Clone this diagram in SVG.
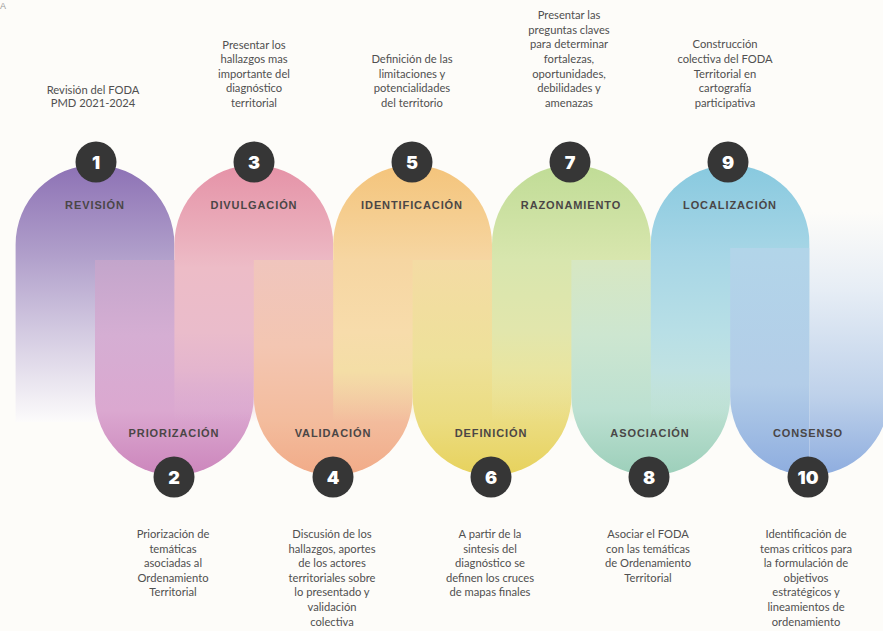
<svg xmlns="http://www.w3.org/2000/svg" width="883" height="631" viewBox="0 0 883 631">
<style>
.desc{font-family:Lato,"Open Sans","Liberation Sans",sans-serif;font-size:11.2px;fill:#505050;text-anchor:middle}
.lbl{font-family:"Liberation Sans",Arial,sans-serif;font-weight:bold;font-size:11px;letter-spacing:0.9px;fill:#4a4646;text-anchor:middle}
.num{font-family:Inter,"Liberation Sans",sans-serif;font-weight:900;font-size:18px;fill:#ffffff;text-anchor:middle}
.dot{fill:#363636}
</style>
<defs>
<linearGradient id="g1" gradientUnits="userSpaceOnUse" x1="0" y1="165" x2="0" y2="422">
<stop offset="0" stop-color="#8d72b5"/><stop offset="0.33" stop-color="#ae9cc9"/><stop offset="0.65" stop-color="#d3cae1"/><stop offset="1" stop-color="#fcfbfb"/></linearGradient>
<linearGradient id="g2" gradientUnits="userSpaceOnUse" x1="0" y1="260" x2="0" y2="475">
<stop offset="0" stop-color="#c3a5cb"/><stop offset="0.35" stop-color="#d5aed3"/><stop offset="0.7" stop-color="#dba8d0"/><stop offset="1" stop-color="#cc86bc"/></linearGradient>
<linearGradient id="g3" gradientUnits="userSpaceOnUse" x1="0" y1="165" x2="0" y2="422">
<stop offset="0" stop-color="#e592a7"/><stop offset="0.25" stop-color="#eaacba"/><stop offset="0.4" stop-color="#edbcc7"/><stop offset="0.65" stop-color="#eabccb"/><stop offset="0.8" stop-color="#e4b5ce"/><stop offset="1" stop-color="#dfafd1" stop-opacity="0"/></linearGradient>
<linearGradient id="g4" gradientUnits="userSpaceOnUse" x1="0" y1="260" x2="0" y2="475">
<stop offset="0" stop-color="#f0c5bd"/><stop offset="0.4" stop-color="#f3c6b2"/><stop offset="0.75" stop-color="#f3bc9d"/><stop offset="1" stop-color="#f1ab88"/></linearGradient>
<linearGradient id="g5" gradientUnits="userSpaceOnUse" x1="0" y1="165" x2="0" y2="422">
<stop offset="0" stop-color="#f4c47b"/><stop offset="0.37" stop-color="#f6d6a2"/><stop offset="0.65" stop-color="#f7dcab"/><stop offset="0.8" stop-color="#f4dea6"/><stop offset="1" stop-color="#f3dea2" stop-opacity="0"/></linearGradient>
<linearGradient id="g6" gradientUnits="userSpaceOnUse" x1="0" y1="260" x2="0" y2="475">
<stop offset="0" stop-color="#f4dba4"/><stop offset="0.45" stop-color="#eee19a"/><stop offset="0.75" stop-color="#ebdc80"/><stop offset="1" stop-color="#e7d25d"/></linearGradient>
<linearGradient id="g7" gradientUnits="userSpaceOnUse" x1="0" y1="165" x2="0" y2="422">
<stop offset="0" stop-color="#c0dc96"/><stop offset="0.37" stop-color="#d8e6ae"/><stop offset="0.65" stop-color="#e2e6ac"/><stop offset="0.8" stop-color="#e9e5a0"/><stop offset="1" stop-color="#ebe499" stop-opacity="0"/></linearGradient>
<linearGradient id="g8" gradientUnits="userSpaceOnUse" x1="0" y1="260" x2="0" y2="475">
<stop offset="0" stop-color="#d7e7c2"/><stop offset="0.35" stop-color="#cde6d0"/><stop offset="0.7" stop-color="#bce0d1"/><stop offset="1" stop-color="#9ccfba"/></linearGradient>
<linearGradient id="g9" gradientUnits="userSpaceOnUse" x1="0" y1="165" x2="0" y2="422">
<stop offset="0" stop-color="#88c9df"/><stop offset="0.35" stop-color="#a7d6e6"/><stop offset="0.65" stop-color="#b8dfe6"/><stop offset="0.8" stop-color="#c0e2e2"/><stop offset="1" stop-color="#c3e3e0" stop-opacity="0"/></linearGradient>
<linearGradient id="g10a" gradientUnits="userSpaceOnUse" x1="0" y1="248" x2="0" y2="475">
<stop offset="0" stop-color="#b2d5e9"/><stop offset="0.6" stop-color="#b3cde8"/><stop offset="1" stop-color="#8eaddf"/></linearGradient>
<linearGradient id="g10b" gradientUnits="userSpaceOnUse" x1="0" y1="212" x2="0" y2="475">
<stop offset="0" stop-color="#fdfcf9"/><stop offset="0.3" stop-color="#e6edf5"/><stop offset="0.7" stop-color="#bed1ea"/><stop offset="1" stop-color="#8eaddf"/></linearGradient>
</defs>
<rect width="883" height="631" fill="#fdfcf9"/>
<text x="0" y="9" style="font-family:'Liberation Sans',sans-serif;font-size:9px;fill:#9a9a9a">A</text>

<g id="connectors"></g>

<g id="step1">
<path d="M15.6 422 V244.4 A79.4 79.4 0 0 1 174.4 244.4 V422 Z" fill="url(#g1)"/>
</g>
<g id="step2">
<path d="M95 260 V396 A79.4 79.4 0 0 0 253.8 396 V260 Z" fill="url(#g2)"/>
</g>
<g id="step3">
<path d="M174.4 422 V244.4 A79.4 79.4 0 0 1 333.2 244.4 V422 Z" fill="url(#g3)"/>
</g>
<g id="step4">
<path d="M253.8 260 V396 A79.4 79.4 0 0 0 412.6 396 V260 Z" fill="url(#g4)"/>
</g>
<g id="step5">
<path d="M333.2 422 V244.4 A79.4 79.4 0 0 1 492 244.4 V422 Z" fill="url(#g5)"/>
</g>
<g id="step6">
<path d="M412.6 260 V396 A79.4 79.4 0 0 0 571.4 396 V260 Z" fill="url(#g6)"/>
</g>
<g id="step7">
<path d="M492 422 V244.4 A79.4 79.4 0 0 1 650.8 244.4 V422 Z" fill="url(#g7)"/>
</g>
<g id="step8">
<path d="M571.4 260 V396 A79.4 79.4 0 0 0 730.2 396 V260 Z" fill="url(#g8)"/>
</g>
<g id="step9">
<path d="M650.8 422 V244.4 A79.4 79.4 0 0 1 809.6 244.4 V422 Z" fill="url(#g9)"/>
</g>
<g id="step10">
<path d="M730.2 248 V396 A79.4 79.4 0 0 0 809.6 475.4 V248 Z" fill="url(#g10a)"/>
<path d="M809.6 212 V475.4 A79.4 79.4 0 0 0 889 396 V212 Z" fill="url(#g10b)"/>
</g>

<g id="labels">
<text class="lbl" x="95" y="209">REVISIÓN</text>
<text class="lbl" x="254" y="209">DIVULGACIÓN</text>
<text class="lbl" x="412" y="209">IDENTIFICACIÓN</text>
<text class="lbl" x="571" y="209">RAZONAMIENTO</text>
<text class="lbl" x="730" y="209">LOCALIZACIÓN</text>
<text class="lbl" x="174" y="437">PRIORIZACIÓN</text>
<text class="lbl" x="333" y="437">VALIDACIÓN</text>
<text class="lbl" x="491" y="437">DEFINICIÓN</text>
<text class="lbl" x="650" y="437">ASOCIACIÓN</text>
<text class="lbl" x="808" y="437">CONSENSO</text>
</g>

<g id="markers">
<g id="n1"><circle class="dot" cx="96" cy="162" r="20.5"/><text class="num" x="96" y="168.5">1</text></g>
<g id="n3"><circle class="dot" cx="254" cy="162" r="20.5"/><text class="num" x="254" y="168.5">3</text></g>
<g id="n5"><circle class="dot" cx="412" cy="162" r="20.5"/><text class="num" x="412" y="168.5">5</text></g>
<g id="n7"><circle class="dot" cx="570" cy="162" r="20.5"/><text class="num" x="570" y="168.5">7</text></g>
<g id="n9"><circle class="dot" cx="728" cy="162" r="20.5"/><text class="num" x="728" y="168.5">9</text></g>
<g id="n2"><circle class="dot" cx="174" cy="477" r="20.5"/><text class="num" x="174" y="483.5">2</text></g>
<g id="n4"><circle class="dot" cx="333" cy="477" r="20.5"/><text class="num" x="333" y="483.5">4</text></g>
<g id="n6"><circle class="dot" cx="491" cy="477" r="20.5"/><text class="num" x="491" y="483.5">6</text></g>
<g id="n8"><circle class="dot" cx="649" cy="477" r="20.5"/><text class="num" x="649" y="483.5">8</text></g>
<g id="n10"><circle class="dot" cx="808" cy="477" r="20.5"/><text class="num" x="808" y="483.5">10</text></g>
</g>

<g id="descriptions">
<text class="desc"><tspan x="93" y="93.5">Revisión del FODA</tspan><tspan x="93" y="107">PMD 2021-2024</tspan></text>
<text class="desc"><tspan x="254" y="48.5">Presentar los</tspan><tspan x="254" y="63">hallazgos mas</tspan><tspan x="254" y="77.6">importante del</tspan><tspan x="254" y="92.2">diagnóstico</tspan><tspan x="254" y="106.8">territorial</tspan></text>
<text class="desc"><tspan x="412" y="63">Definición de las</tspan><tspan x="412" y="77.6">limitaciones y</tspan><tspan x="412" y="92.2">potencialidades</tspan><tspan x="412" y="106.8">del territorio</tspan></text>
<text class="desc"><tspan x="569" y="19.2">Presentar las</tspan><tspan x="569" y="33.8">preguntas claves</tspan><tspan x="569" y="48.4">para determinar</tspan><tspan x="569" y="63">fortalezas,</tspan><tspan x="569" y="77.6">oportunidades,</tspan><tspan x="569" y="92.2">debilidades y</tspan><tspan x="569" y="106.8">amenazas</tspan></text>
<text class="desc"><tspan x="725" y="48.4">Construcción</tspan><tspan x="725" y="63">colectiva del FODA</tspan><tspan x="725" y="77.6">Territorial en</tspan><tspan x="725" y="92.2">cartografía</tspan><tspan x="725" y="106.8">participativa</tspan></text>

<text class="desc"><tspan x="173" y="538">Priorización de</tspan><tspan x="173" y="552.6">temáticas</tspan><tspan x="173" y="567.2">asociadas al</tspan><tspan x="173" y="581.8">Ordenamiento</tspan><tspan x="173" y="596.4">Territorial</tspan></text>
<text class="desc"><tspan x="332" y="538">Discusión de los</tspan><tspan x="332" y="552.6">hallazgos, aportes</tspan><tspan x="332" y="567.2">de los actores</tspan><tspan x="332" y="581.8">territoriales sobre</tspan><tspan x="332" y="596.4">lo presentado y</tspan><tspan x="332" y="611">validación</tspan><tspan x="332" y="625.6">colectiva</tspan></text>
<text class="desc"><tspan x="490" y="538">A partir de la</tspan><tspan x="490" y="552.6">sintesis del</tspan><tspan x="490" y="567.2">diagnóstico se</tspan><tspan x="490" y="581.8">definen los cruces</tspan><tspan x="490" y="596.4">de mapas finales</tspan></text>
<text class="desc"><tspan x="648" y="538">Asociar el FODA</tspan><tspan x="648" y="552.6">con las temáticas</tspan><tspan x="648" y="567.2">de Ordenamiento</tspan><tspan x="648" y="581.8">Territorial</tspan></text>
<text class="desc"><tspan x="806" y="538">Identificación de</tspan><tspan x="806" y="552.6">temas criticos para</tspan><tspan x="806" y="567.2">la formulación de</tspan><tspan x="806" y="581.8">objetivos</tspan><tspan x="806" y="596.4">estratégicos y</tspan><tspan x="806" y="611">lineamientos de</tspan><tspan x="806" y="625.6">ordenamiento</tspan></text>
</g>
</svg>
